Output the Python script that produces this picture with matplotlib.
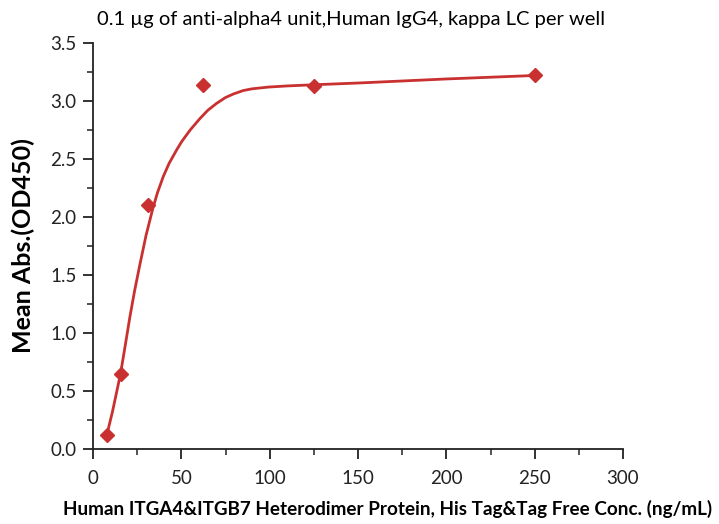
import matplotlib
matplotlib.use("Agg")
import matplotlib.pyplot as plt
from matplotlib.ticker import MultipleLocator

plt.rcParams["font.family"] = ["Lato", "DejaVu Sans"]

RED = "#C8312F"

# measured points
conc = [7.8, 15.6, 31.25, 62.5, 125, 250]
od450 = [0.12, 0.65, 2.10, 3.14, 3.13, 3.22]

# fitted curve
fit_x = [7.8, 11, 15.6, 18, 20.9, 23.5, 26.4, 30, 33.8, 36.5, 39.8, 43,
         47.4, 50.2, 55, 60.6, 65, 70, 75, 79.4, 85, 90, 99.2, 110, 125,
         150, 200, 250]
fit_y = [0.12, 0.32, 0.65, 0.87, 1.14, 1.36, 1.58, 1.84, 2.07, 2.21, 2.35,
         2.46, 2.58, 2.65, 2.75, 2.85, 2.92, 2.98, 3.03, 3.06, 3.09, 3.105,
         3.12, 3.13, 3.14, 3.155, 3.19, 3.22]

TITLE = "0.1 µg of anti-alpha4 unit,Human IgG4, kappa LC per well"
XLABEL = "Human ITGA4&ITGB7 Heterodimer Protein, His Tag&Tag Free Conc. (ng/mL)"
YLABEL = "Mean Abs.(OD450)"

fig = plt.figure(figsize=(7.19, 5.24), dpi=100)
ax = fig.add_axes([93 / 719, 1 - 449 / 524, 530 / 719, 406 / 524])

ax.plot(fit_x, fit_y, color=RED, linewidth=2.0, zorder=2,
        solid_joinstyle="round")
ax.plot(conc, od450, linestyle="none", marker="D", markersize=7,
        color=RED, zorder=3)

ax.set_xlim(0, 300)
ax.set_ylim(0, 3.5)
ax.xaxis.set_major_locator(MultipleLocator(50))
ax.xaxis.set_minor_locator(MultipleLocator(25))
ax.yaxis.set_major_locator(MultipleLocator(0.5))
ax.yaxis.set_minor_locator(MultipleLocator(0.25))
ax.yaxis.set_major_formatter(plt.FormatStrFormatter("%.1f"))

for spine in ("top", "right"):
    ax.spines[spine].set_visible(False)
for spine in ("left", "bottom"):
    ax.spines[spine].set_linewidth(1.3)
    ax.spines[spine].set_color("#222")

ax.tick_params(which="major", direction="out", length=7, width=1.3,
               labelsize=13.5, colors="#222")
ax.tick_params(which="minor", direction="out", length=4, width=1.1,
               colors="#222")
ax.tick_params(axis="x", pad=8)
ax.tick_params(axis="y", pad=5)

ax.set_title(TITLE, fontsize=14.5, pad=13, x=0.487)
ax.set_xlabel(XLABEL, fontsize=13.6, fontweight="bold")
ax.xaxis.set_label_coords(0.555, -0.125)
ax.set_ylabel(YLABEL, fontsize=18, fontweight="bold", labelpad=11)

fig.savefig("out.png", dpi=100, facecolor="white")
